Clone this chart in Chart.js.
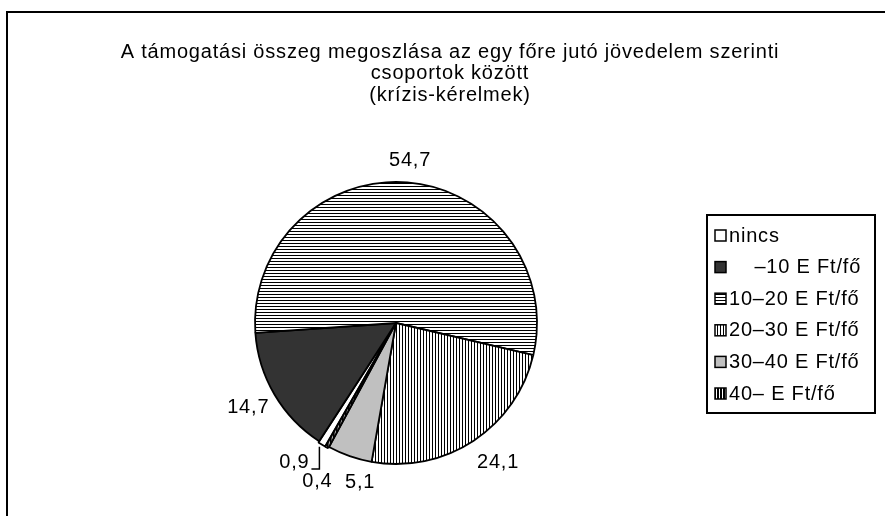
<!DOCTYPE html>
<html>
<head>
<meta charset="utf-8">
<script src="https://cdn.jsdelivr.net/npm/chart.js@4/dist/chart.umd.min.js"></script>
<style>
  html, body { margin: 0; padding: 0; background: #fff; }
  #wrap { width: 885px; height: 516px; }
</style>
</head>
<body>
<div id="wrap"><canvas id="piechart" width="885" height="516"></canvas></div>
<script>
var categories = ["nincs", "    \u201310 E Ft/f\u0151", "10\u201320 E Ft/f\u0151", "20\u201330 E Ft/f\u0151", "30\u201340 E Ft/f\u0151", "40\u2013 E Ft/f\u0151"];
var shares = [0.9, 14.7, 54.7, 24.1, 5.1, 0.4];
var titleLines = [
  "A t\u00e1mogat\u00e1si \u00f6sszeg megoszl\u00e1sa az egy f\u0151re jut\u00f3 j\u00f6vedelem szerinti",
  "csoportok k\u00f6z\u00f6tt",
  "(kr\u00edzis-k\u00e9relmek)"
];

var FONT = "20px 'Liberation Sans', Arial, sans-serif";
var SPACING = "0.8px";

var canvas = document.getElementById("piechart");
var ctx = canvas.getContext("2d");

// stripe fills like the old excel b/w patterns
function stripes(horizontal, period, line) {
  var c = document.createElement("canvas");
  c.width = period; c.height = period;
  var x = c.getContext("2d");
  x.fillStyle = "#fff";
  x.fillRect(0, 0, period, period);
  x.fillStyle = "#000";
  if (horizontal) x.fillRect(0, 0, period, line);
  else x.fillRect(0, 0, line, period);
  return ctx.createPattern(c, "repeat");
}

var fills = [
  "#ffffff",
  "#333333",
  stripes(true, 3, 1),
  stripes(false, 3, 1),
  "#c0c0c0",
  stripes(false, 3, 2)
];

// nudges for the crowded labels at the bottom left (x, y)
var labelNudge = [[-13, 0], [4, 2], [0, 0], [5, 3], [20, 6], [4, 16]];

function fmt(v) { return String(v).replace(".", ","); }

var framePlugin = {
  id: "frame",
  beforeDraw: function (chart) {
    var c = chart.ctx;
    c.save();
    c.fillStyle = "#000";
    c.fillRect(6, 11, 2, 505);
    c.fillRect(6, 11, 879, 2);
    c.restore();
  }
};

var textPlugin = {
  id: "texts",
  afterDraw: function (chart) {
    var c = chart.ctx;
    c.save();
    c.font = FONT;
    c.letterSpacing = SPACING;
    c.fillStyle = "#000";
    c.textBaseline = "alphabetic";
    c.textAlign = "center";
    titleLines.forEach(function (t, i) {
      c.fillText(t, 450, 57.5 + i * 21.5);
    });

    // value labels outside the slices
    var arcs = chart.getDatasetMeta(0).data;
    c.textBaseline = "middle";
    arcs.forEach(function (arc, i) {
      var p = arc.getProps(["x", "y", "startAngle", "endAngle", "outerRadius"], true);
      var mid = (p.startAngle + p.endAngle) / 2;
      var dx = Math.cos(mid), dy = Math.sin(mid);
      var txt = fmt(shares[i]);
      var w = c.measureText(txt).width, h = 16;
      var r = p.outerRadius + 14;
      var lx = p.x + dx * r + dx * w / 2 + labelNudge[i][0];
      var ly = p.y + dy * r + dy * h / 2 + labelNudge[i][1];
      c.fillText(txt, lx, ly);
      if (i === 0) {
        var off = arc.options.offset || 0;
        var tx = p.x + dx * (p.outerRadius + off + 1);
        var ty = p.y + dy * (p.outerRadius + off + 1);
        c.beginPath();
        c.lineWidth = 1.5;
        c.strokeStyle = "#000";
        c.moveTo(lx + w / 2 + 2, ly + 7);
        c.lineTo(tx - 1, ly + 7);
        c.lineTo(tx - 1, ty);
        c.stroke();
      }
    });

    // legend box
    c.lineWidth = 2;
    c.strokeStyle = "#000";
    c.strokeRect(707, 215, 168, 198);
    c.textAlign = "left";
    categories.forEach(function (lab, i) {
      var y = 235 + i * 31.6;
      c.fillStyle = fills[i];
      c.fillRect(715, y - 5, 11, 11);
      c.lineWidth = 1.5;
      c.strokeRect(715, y - 5, 11, 11);
      c.fillStyle = "#000";
      c.fillText(lab, 729, y + 1);
    });
    c.restore();
  }
};

var pieChart = new Chart(canvas, {
  type: "pie",
  data: {
    labels: categories,
    datasets: [{
      data: shares,
      backgroundColor: fills,
      borderColor: "#000",
      borderWidth: 1.8,
      hoverBorderWidth: 1.8,
      offset: [3, 0, 0, 0, 0, 3],
      hoverOffset: 0
    }]
  },
  options: {
    responsive: false,
    animation: false,
    events: [],
    rotation: 209.8,
    radius: 141,
    layout: { padding: { left: 255, right: 348, top: 182, bottom: 52 } },
    plugins: {
      legend: { display: false },
      title: { display: false },
      tooltip: { enabled: false }
    }
  },
  plugins: [framePlugin, textPlugin]
});
</script>
</body>
</html>
